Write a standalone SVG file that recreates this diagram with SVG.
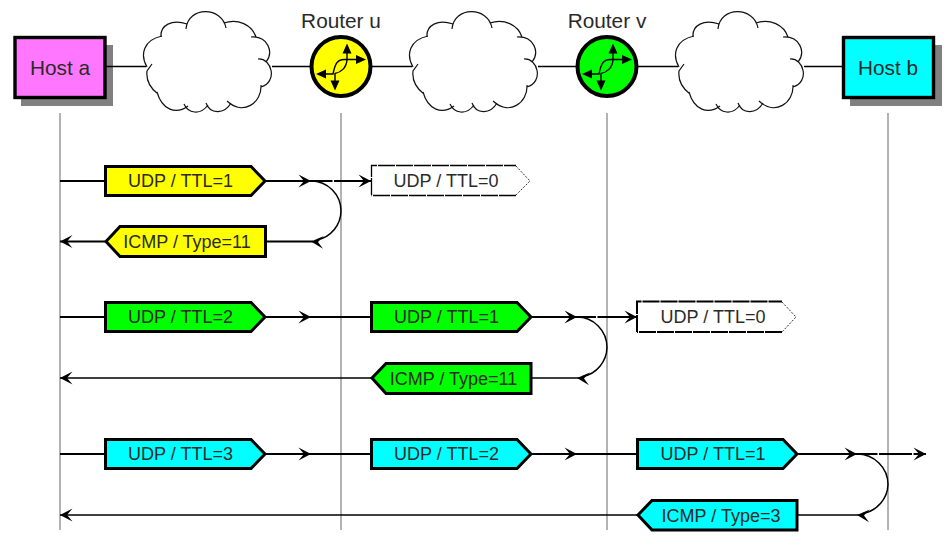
<svg xmlns="http://www.w3.org/2000/svg" width="946" height="550" viewBox="0 0 946 550">
<style>
text{font-family:"Liberation Sans",Arial,sans-serif;fill:#2a2a2a;text-anchor:middle}
.big{font-size:20.8px}
.pk{font-size:18px}
.life{stroke:#666;stroke-width:1;fill:none}
.wire{stroke:#000;stroke-width:1.5;fill:none}
.thick{stroke:#000;stroke-width:2;fill:none}
.thin{stroke:#000;stroke-width:1.3;fill:none}
.p{stroke:#000;stroke-width:3;stroke-linejoin:miter}
.y{fill:#ff0}.g{fill:#0f0}.c{fill:#0ff}
.w{fill:#fff;stroke:none}
.ghost{fill:none;stroke:#000;stroke-width:1.3;stroke-dasharray:17 1}
.ghost2{fill:none;stroke:#000;stroke-width:2;stroke-dasharray:17 1}
.tip{fill:none;stroke:#333;stroke-width:1;stroke-dasharray:2 1.5}
.cloud{fill:#fff;stroke:none}
.cl{fill:none;stroke:#111;stroke-width:1.2}
.sh{fill:#808080}
.host{stroke:#000;stroke-width:3.4}
.rt{stroke:#000;stroke-width:4}
.ra{fill:none;stroke:#000;stroke-width:1.4}
.ah{fill:#000}
</style>
<defs>
<marker id="open" markerUnits="userSpaceOnUse" markerWidth="16" markerHeight="16" viewBox="-14 -8 16 16" refX="0" refY="0" orient="auto"><path d="M0,0L-12.500,-6.500L-7,0L-12.500,6.500z" fill="#000"/></marker>
<path id="back" d="M0,0L-12.500,-6.500L-7,0L-12.500,6.500z" fill="#000"/>
<g id="cloudshape">
<path class="cloud" d="M147,67C140,55 143,40 162,36C160,25 172,19 187,24L186,29C188,6 222,6 226,28L224,23C238,18 252,25 256,37L251,37C268,36 274,52 266,62L258,59C272,58 278,82 261,87L261,85C262,103 243,116 227,101L231,103C224,115 210,114 206,103L208,105C200,116 188,113 184,104L188,106C176,115 162,110 157,92L158,94C150,88 146,80 147,67z"/>
<path class="cl" d="M147,67C140,55 143,40 162,36M161,37C160,25 172,19 187,24M186,29C188,6 222,6 226,28M224,23C238,18 252,25 256,37M251,37C268,36 274,52 266,62M258,59C272,58 278,82 261,87M261,85C262,103 243,116 227,101M231,103C224,115 210,114 206,103M208,105C200,116 188,113 184,104M188,106C176,115 162,110 157,92M158,94C150,88 146,80 147,71L152,64"/>
</g>
<g id="arrows">
<path class="ra" d="M-19,7.500H-8C-6,-2 -4,-7 3,-7H19"/>
<path class="ra" d="M6,-16V-8C6,2 -1,6 -6,7V17"/>
<path class="ah" d="M25,-7L15,-11.500V-2.500zM6,-23L1.500,-13H10.500zM-25,7.500L-15,3V12zM-6,24L-10.500,14H-1.500z"/>
</g>
</defs>

<g id="cloud-1"><use href="#cloudshape"/></g>
<g id="cloud-2"><use href="#cloudshape" x="266"/></g>
<g id="cloud-3"><use href="#cloudshape" x="532"/></g>

<g id="host-a"><rect class="sh" x="21" y="45" width="92" height="61"/><rect class="host" x="15" y="37.500" width="90" height="60" fill="#f7f"/><text class="big" x="60" y="75">Host a</text></g>
<g id="host-b"><rect class="sh" x="850" y="45" width="92" height="61"/><rect class="host" x="843.500" y="37.500" width="90" height="60" fill="#0ff"/><text class="big" x="888" y="75">Host b</text></g>

<g id="router-u"><text class="big" x="341" y="28">Router u</text><circle class="rt" cx="341" cy="66.500" r="29.500" fill="#ff0"/><use href="#arrows" x="341" y="66.500"/></g>
<g id="router-v"><text class="big" x="607" y="28">Router v</text><circle class="rt" cx="607" cy="66.500" r="29.500" fill="#0f0"/><use href="#arrows" x="607" y="66.500"/></g>

<g id="connectors">
<path class="wire" d="M106,66.500H146M272,66.500H312M372,66.500H412M538,66.500H578M638,66.500H678M804,66.500H843"/>
<path class="life" d="M60,113V530M341,113V530M607,113V530M888,113V530"/>
<path class="thick" d="M60,181H105"/>
<path class="thick" marker-end="url(#open)" d="M265,181H311"/>
<path class="thick" d="M311,181H332.500M334,181H360"/>
<path class="thick" marker-end="url(#open)" d="M360,181H371"/>
<path class="wire" d="M311,181A30,30 0 0 1 341,211A30,30 0 0 1 317,240"/>
<path class="thick" d="M266,241.500H313"/>
<path class="thick" marker-end="url(#open)" d="M105,241.500H60"/>

<path class="thick" d="M60,317H105"/>
<path class="thick" marker-end="url(#open)" d="M265,317H311"/>
<path class="thick" d="M311,317H371"/>
<path class="thick" marker-end="url(#open)" d="M531,317H577"/>
<path class="thick" d="M577,317H596M597.500,317H625"/>
<path class="thick" marker-end="url(#open)" d="M625,317H637"/>
<path class="wire" d="M577,317A30,30.500 0 0 1 607,347.500A30,30.500 0 0 1 583,376.500"/>
<path class="thin" d="M531,378H579"/>
<path class="thin" marker-end="url(#open)" d="M371,378H60"/>

<path class="thick" d="M60,454H105"/>
<path class="thick" marker-end="url(#open)" d="M265,454H311"/>
<path class="thick" d="M311,454H371"/>
<path class="thick" marker-end="url(#open)" d="M531,454H577"/>
<path class="thick" d="M577,454H637"/>
<path class="thick" marker-end="url(#open)" d="M797,454H857"/>
<path class="thick" d="M857,454H877.500M879,454H912"/>
<path class="thick" marker-end="url(#open)" d="M913.500,454H926"/>
<path class="wire" d="M857,454A31,30.500 0 0 1 888,484.500A31,30.500 0 0 1 863,513.500"/>
<path class="thin" d="M797,515H859"/>
<path class="thin" marker-end="url(#open)" d="M637,515H60"/>
<use href="#back" transform="translate(311,241.500) rotate(184)"/>
<use href="#back" transform="translate(577,378) rotate(184)"/>
<use href="#back" transform="translate(857,515) rotate(184)"/>
</g>

<g id="pkt-u1"><path class="p y" d="M105.500,166.500H251L265,181L251,195.500H105.500z"/><text class="pk" x="180.500" y="187">UDP / TTL=1</text></g>
<g id="pkt-u0"><path class="w" d="M372,166H516L530,181L516,195H372z"/><path class="ghost" d="M371.500,195V165.500H516M516,195.500H371.500"/><path class="tip" d="M516,166L530,181L516,195"/><text class="pk" x="446" y="187">UDP / TTL=0</text></g>
<g id="pkt-i1"><path class="p y" d="M106,241.500L120,226.500H265.500V256.500H120z"/><text class="pk" x="187" y="248">ICMP / Type=11</text></g>

<g id="pkt-u2"><path class="p g" d="M105.500,302.500H251L265,317L251,331.500H105.500z"/><text class="pk" x="180.500" y="323">UDP / TTL=2</text></g>
<g id="pkt-v1"><path class="p g" d="M371.500,302.500H517L531,317L517,331.500H371.500z"/><text class="pk" x="446.500" y="323">UDP / TTL=1</text></g>
<g id="pkt-v0"><path class="w" d="M638,302H782L796,317L782,332H638z"/><path class="ghost2" d="M637,332V301.500H782M782,332H637"/><path class="tip" d="M782,302L796,317L782,332"/><text class="pk" x="713" y="323">UDP / TTL=0</text></g>
<g id="pkt-i2"><path class="p g" d="M372,378L386,363.500H531V393.500H386z"/><text class="pk" x="453.500" y="384.500">ICMP / Type=11</text></g>

<g id="pkt-u3"><path class="p c" d="M105.500,439.500H251L265,454L251,468.500H105.500z"/><text class="pk" x="180.500" y="460">UDP / TTL=3</text></g>
<g id="pkt-v2"><path class="p c" d="M371.500,439.500H517L531,454L517,468.500H371.500z"/><text class="pk" x="446.500" y="460">UDP / TTL=2</text></g>
<g id="pkt-w1"><path class="p c" d="M637.500,439.500H783L797,454L783,468.500H637.500z"/><text class="pk" x="713" y="460">UDP / TTL=1</text></g>
<g id="pkt-i3"><path class="p c" d="M638,515L652,500.500H797V530H652z"/><text class="pk" x="721" y="521.500">ICMP / Type=3</text></g>
</svg>
